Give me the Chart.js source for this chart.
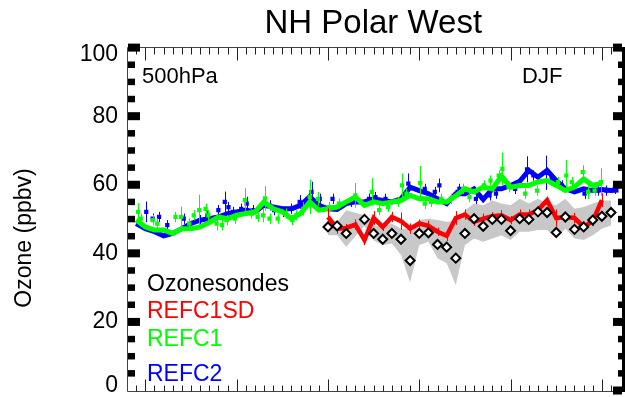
<!DOCTYPE html>
<html>
<head>
<meta charset="utf-8">
<script src="https://cdn.jsdelivr.net/npm/chart.js@4.4.0/dist/chart.umd.min.js"></script>
<style>
  html, body { margin: 0; padding: 0; background: #fff; overflow: hidden; }
  #wrap { width: 625px; height: 397px; position: relative; }
</style>
</head>
<body>
<div id="wrap"><canvas id="ozoneChart"></canvas></div>
<script>
// DJF ozone at 500 hPa, NH polar west: sondes vs. model runs
const FONT = "'Liberation Sans', Arial, Helvetica, sans-serif";

const yTickLabels = [0, 20, 40, 60, 80, 100];

// ozonesondes (no 1983 winter)
const sondeYears = [1980, 1981, 1982, 1984, 1985, 1986, 1987, 1988, 1989, 1990,
  1991, 1992, 1993, 1994, 1995, 1996, 1997, 1998, 1999, 2000,
  2001, 2002, 2003, 2004, 2005, 2006, 2007, 2008, 2009, 2010, 2011];
const sondeMean = [47.7, 48.0, 45.8, 49.9, 45.8, 44.1, 45.8, 44.1, 37.9, 45.8,
  46.0, 42.6, 41.8, 38.6, 45.8, 50.1, 47.9, 49.9, 49.9, 46.6,
  50.1, 49.9, 52.1, 51.9, 46.1, 50.6, 47.0, 47.7, 49.7, 50.8, 51.9];
const sondeHigh = [49.7, 49.2, 52.6, 51.1, 48.2, 47.7, 48.7, 47.2, 47.2, 49.7,
  50.1, 49.7, 49.2, 49.5, 52.6, 54.5, 54.0, 55.4, 54.5, 54.0,
  55.9, 54.5, 55.9, 54.5, 54.0, 55.9, 53.0, 53.5, 54.5, 55.4, 55.4];
const sondeLow = [45.3, 45.3, 41.9, 48.0, 43.8, 42.4, 42.9, 39.5, 31.5, 42.4,
  43.4, 38.6, 37.1, 30.8, 42.4, 44.3, 43.4, 44.3, 45.3, 43.9,
  46.3, 46.3, 46.8, 46.8, 44.3, 47.2, 44.3, 43.9, 45.3, 47.2, 48.2];

// REFC1SD
const sdYears = [1980, 1981, 1982, 1983, 1984, 1985, 1986, 1987, 1988, 1989,
  1990, 1991, 1992, 1993, 1994, 1995, 1996, 1997, 1998, 1999,
  2000, 2001, 2002, 2003, 2004, 2005, 2006, 2007, 2008, 2009, 2010];
const sdValues = [50.6, 47.2, 47.4, 48.4, 43.9, 50.3, 47.7, 50.6, 49.4, 47.2,
  48.7, 48.0, 46.3, 45.1, 50.3, 51.3, 49.2, 50.1, 50.8, 51.1,
  49.7, 51.3, 51.3, 52.6, 55.5, 50.3, 50.6, 50.3, 47.7, 49.4, 55.5];
const sdErrors = [2.5, 1.5, 1.2, 1.5, 1.5, 2.0, 1.2, 1.5, 2.5, 1.5,
  1.2, 1.5, 1.2, 1.5, 2.0, 1.5, 1.2, 1.5, 1.2, 1.5,
  1.2, 1.5, 1.5, 1.2, 1.0, 2.5, 1.5, 1.5, 1.5, 1.5, 2.0];

// REFC1 winter means
const c1Years = [1959, 1960, 1961, 1962, 1963, 1964, 1965, 1966, 1967, 1968,
  1969, 1970, 1971, 1972, 1973, 1974, 1975, 1976, 1977, 1978,
  1979, 1980, 1981, 1982, 1983, 1984, 1985, 1986, 1987, 1988,
  1989, 1990, 1991, 1992, 1993, 1994, 1995, 1996, 1997, 1998,
  1999, 2000, 2001, 2002, 2003, 2004, 2005, 2006, 2007, 2008, 2009, 2010];
const c1Values = [49.7, 47.7, 46.8, 46.8, 45.8, 47.2, 47.2, 47.7, 49.0, 50.6,
  50.1, 51.1, 51.6, 52.1, 55.0, 53.0, 52.1, 50.1, 51.6, 55.0,
  52.6, 53.0, 53.5, 55.0, 56.4, 54.0, 55.0, 54.5, 55.0, 55.4,
  56.9, 55.9, 55.9, 55.0, 55.0, 56.8, 58.8, 57.9, 59.3, 58.8,
  62.5, 59.3, 59.8, 59.8, 60.8, 61.2, 59.8, 58.3, 59.3, 61.7, 59.8, 60.5];

// REFC1 individual members
const c1DotYears = [1959.2, 1959.5, 1960.8, 1961.3, 1963.3, 1963.9, 1964.8, 1965.3, 1965.9, 1966.6,
  1966.9, 1967.8, 1968.4, 1968.9, 1969.8, 1970.9, 1971.6, 1972.3, 1972.9, 1973.1,
  1973.6, 1974.5, 1975.4, 1976.1, 1976.5, 1977.3, 1978.0, 1978.9, 1980.1, 1981.2,
  1983.0, 1984.8, 1985.6, 1986.6, 1987.7, 1988.1, 1988.6, 1990.1, 1990.6, 1991.3,
  1992.4, 1993.5, 1994.8, 1995.5, 1997.1, 1997.8, 1998.7, 1999.1, 1999.8, 2001.6,
  2002.9, 2005.2, 2006.1, 2006.7, 2007.9, 2008.5, 2009.2, 2009.9];
const c1DotValues = [52.1, 50.1, 49.7, 48.7, 50.6, 50.6, 48.7, 51.1, 52.6, 53.0,
  51.1, 48.7, 48.2, 49.7, 50.1, 55.5, 51.6, 50.6, 51.1, 56.0,
  50.1, 50.1, 51.6, 49.7, 51.1, 53.0, 56.5, 55.9, 53.5, 54.5,
  56.9, 57.9, 52.6, 53.5, 55.0, 59.8, 57.4, 60.5, 54.5, 55.0,
  55.9, 55.9, 58.8, 56.4, 59.8, 61.2, 62.7, 64.6, 59.3, 57.4,
  58.3, 60.8, 62.7, 60.8, 63.7, 57.9, 58.3, 60.8];
const c1DotErrors = [2.5, 1.5, 1.5, 1.5, 1.5, 3.0, 1.5, 1.5, 4.5, 1.5,
  1.5, 2.0, 1.5, 1.5, 1.5, 3.5, 1.5, 1.5, 2.0, 3.6,
  1.5, 1.5, 1.5, 1.5, 1.5, 2.0, 5.0, 2.0, 1.5, 1.5,
  3.6, 4.0, 1.5, 1.5, 1.5, 3.5, 1.5, 5.0, 1.5, 1.5,
  1.5, 1.5, 1.5, 1.5, 1.5, 1.5, 1.5, 4.8, 1.5, 1.5,
  1.5, 1.5, 4.5, 1.5, 2.0, 2.0, 1.5, 4.0];

// REFC2 winter means
const c2Years = [1959, 1960, 1961, 1962, 1963, 1964, 1965, 1966, 1967, 1968,
  1969, 1970, 1971, 1972, 1973, 1974, 1975, 1976, 1977, 1978,
  1979, 1980, 1981, 1982, 1983, 1984, 1985, 1986, 1987, 1988,
  1989, 1990, 1991, 1992, 1993, 1994, 1995, 1996, 1997, 1998,
  1999, 2000, 2001, 2002, 2003, 2004, 2005, 2006, 2007, 2008,
  2009, 2010, 2011, 2012];
const c2Values = [48.7, 47.2, 46.3, 45.1, 45.8, 47.2, 48.7, 49.7, 50.1, 50.6,
  51.6, 52.1, 52.6, 52.1, 54.0, 53.5, 53.0, 53.0, 54.0, 56.5,
  54.0, 53.0, 52.8, 54.5, 55.0, 55.0, 55.9, 55.4, 55.0, 55.9,
  59.3, 58.3, 57.4, 55.9, 54.5, 57.4, 57.4, 58.8, 55.7, 58.8,
  58.8, 59.8, 61.0, 64.2, 62.2, 64.2, 61.2, 58.8, 57.9, 58.8,
  58.3, 58.6, 58.3, 58.5];

// REFC2 individual members
const c2DotYears = [1960.1, 1960.8, 1961.5, 1962.4, 1964.2, 1966.0, 1966.8, 1968.0, 1968.7, 1969.1,
  1969.6, 1970.5, 1971.1, 1971.8, 1973.6, 1974.1, 1975.1, 1976.0, 1976.9, 1978.2,
  1979.1, 1980.5, 1982.5, 1984.5, 1985.2, 1986.3, 1988.8, 1990.6, 1991.7, 1992.2,
  1994.2, 1994.4, 1996.2, 1997.7, 1998.4, 2000.5, 2001.8, 2002.5, 2003.9, 2004.5,
  2005.6, 2008.1, 2009.6, 2010.5, 2011.4];
const c2DotValues = [52.1, 50.1, 50.6, 48.2, 50.1, 49.7, 51.1, 52.6, 55.0, 53.5,
  52.1, 53.0, 54.5, 52.6, 54.0, 52.6, 52.1, 53.0, 55.0, 57.9,
  55.9, 55.9, 55.0, 55.9, 56.4, 55.9, 60.3, 58.8, 57.9, 59.8,
  57.9, 58.8, 55.9, 56.9, 57.4, 58.8, 64.5, 62.7, 63.5, 61.7,
  59.8, 57.4, 58.3, 58.3, 58.8];
const c2DotErrors = [3.0, 1.5, 1.5, 1.5, 1.5, 1.5, 1.5, 1.5, 3.0, 1.5,
  1.5, 1.5, 2.0, 1.5, 1.5, 1.5, 1.5, 1.5, 2.0, 3.0,
  1.5, 1.5, 1.5, 1.5, 1.5, 1.5, 3.0, 1.5, 1.5, 2.0,
  1.5, 1.5, 1.5, 1.5, 1.5, 1.5, 3.8, 1.5, 5.0, 1.5,
  1.5, 1.5, 1.5, 1.5, 1.5];

const RED = '#ff0000';
const GREEN = '#00ff00';
const BLUE = '#0000ff';

function pts(xs, ys) {
  return xs.map((x, i) => ({ x: x, y: ys[i] }));
}

// thick IDL-style frame, inward ticks and the text inside the plot
const idlFrame = {
  id: 'idlFrame',
  beforeDatasetDraw(chart, args) {
    const ds = chart.data.datasets[args.index];
    if (!ds.errors) return;
    const { ctx, chartArea: a, scales: { x, y } } = chart;
    ctx.save();
    ctx.beginPath();
    ctx.rect(a.left, a.top, a.right - a.left, a.bottom - a.top);
    ctx.clip();
    ctx.strokeStyle = ds.errorColor;
    ctx.lineWidth = 1;
    ds.data.forEach((p, i) => {
      const e = ds.errors[i];
      if (!e) return;
      const px = Math.round(x.getPixelForValue(p.x)) + 0.5;
      ctx.beginPath();
      ctx.moveTo(px, y.getPixelForValue(p.y - e));
      ctx.lineTo(px, y.getPixelForValue(p.y + e));
      ctx.stroke();
    });
    ctx.restore();
  },
  afterDatasetsDraw(chart) {
    const { ctx, chartArea: a, scales: { x, y } } = chart;
    const top = Math.round(a.top) - 0.5;
    const bottom = Math.round(a.bottom) + 0.5;
    const rightEdge = 622;
    ctx.save();

    // axis lines
    ctx.strokeStyle = '#444';
    ctx.lineWidth = 1;
    ctx.beginPath();
    ctx.moveTo(a.left - 0.5, top);
    ctx.lineTo(a.left - 0.5, bottom);
    ctx.moveTo(a.left - 0.5, top);
    ctx.lineTo(rightEdge, top);
    ctx.moveTo(a.left - 0.5, bottom);
    ctx.lineTo(rightEdge, bottom);
    ctx.stroke();
    ctx.fillStyle = '#000';
    ctx.fillRect(rightEdge, top - 0.5, 3, bottom - top + 1);

    // year ticks, top and bottom
    ctx.strokeStyle = '#222';
    ctx.beginPath();
    for (let yr = 1959; yr <= 2011; yr++) {
      const px = Math.round(x.getPixelForValue(yr)) + 0.5;
      const major = yr % 10 === 0;
      ctx.moveTo(px, bottom);
      ctx.lineTo(px, bottom - (major ? 12 : 6));
      ctx.moveTo(px, top);
      ctx.lineTo(px, top + (major ? 13 : 7));
    }
    ctx.stroke();

    // ozone ticks, drawn as thick blocks
    for (let v = 0; v <= 100; v += 5) {
      const py = y.getPixelForValue(v);
      const major = v % 20 === 0;
      const h = major ? 8 : 6.5;
      if (v > 0) ctx.fillRect(a.left, py - h / 2, major ? 12 : 7, h);
      ctx.fillRect(rightEdge - (major ? 9 : 4), py - h / 2, major ? 9 : 4, h);
    }

    // y tick labels
    ctx.font = '23px ' + FONT;
    ctx.fillStyle = '#000';
    ctx.textAlign = 'right';
    ctx.textBaseline = 'middle';
    yTickLabels.forEach(v => {
      const py = Math.min(Math.max(y.getPixelForValue(v), 55), 386);
      ctx.fillText(String(v), 118, py);
    });

    // y axis title
    ctx.save();
    ctx.font = '23px ' + FONT;
    ctx.translate(31, 238);
    ctx.rotate(-Math.PI / 2);
    ctx.textAlign = 'center';
    ctx.textBaseline = 'alphabetic';
    ctx.fillText('Ozone (ppbv)', 0, 0);
    ctx.restore();

    // labels inside the plot
    ctx.textAlign = 'left';
    ctx.textBaseline = 'alphabetic';
    ctx.font = '22px ' + FONT;
    ctx.fillText('500hPa', 142, 83);
    ctx.fillText('DJF', 522, 83);
    ctx.font = '23px ' + FONT;
    ctx.fillText('Ozonesondes', 147, 290.5);
    ctx.fillStyle = RED;
    ctx.fillText('REFC1SD', 147, 318);
    ctx.fillStyle = GREEN;
    ctx.fillText('REFC1', 147, 346);
    ctx.fillStyle = BLUE;
    ctx.fillText('REFC2', 147, 380.5);
    ctx.restore();
  }
};

const ctx = document.getElementById('ozoneChart').getContext('2d');
new Chart(ctx, {
  type: 'line',
  data: {
    datasets: [
      {
        label: 'sonde +1sd',
        data: pts(sondeYears, sondeHigh),
        borderWidth: 0,
        pointRadius: 0,
        backgroundColor: '#c8c8c8',
        fill: '+1',
        order: 20
      },
      {
        label: 'sonde -1sd',
        data: pts(sondeYears, sondeLow),
        borderWidth: 0,
        pointRadius: 0,
        fill: false,
        order: 19
      },
      {
        label: 'REFC2 members',
        data: pts(c2DotYears, c2DotValues),
        errors: c2DotErrors,
        errorColor: BLUE,
        showLine: false,
        pointStyle: 'rect',
        pointRadius: 3,
        backgroundColor: BLUE,
        borderColor: BLUE,
        borderWidth: 0,
        order: 9
      },
      {
        label: 'REFC2',
        data: pts(c2Years, c2Values),
        borderColor: BLUE,
        borderWidth: 5,
        pointRadius: 0,
        fill: false,
        order: 8
      },
      {
        label: 'REFC1 members',
        data: pts(c1DotYears, c1DotValues),
        errors: c1DotErrors,
        errorColor: GREEN,
        showLine: false,
        pointStyle: 'rect',
        pointRadius: 3,
        backgroundColor: GREEN,
        borderColor: GREEN,
        borderWidth: 0,
        order: 7
      },
      {
        label: 'REFC1',
        data: pts(c1Years, c1Values),
        borderColor: GREEN,
        borderWidth: 5,
        pointRadius: 0,
        fill: false,
        order: 6
      },
      {
        label: 'REFC1SD',
        data: pts(sdYears, sdValues),
        errors: sdErrors,
        errorColor: RED,
        borderColor: RED,
        borderWidth: 4.5,
        pointRadius: 0,
        fill: false,
        order: 5
      },
      {
        label: 'Ozonesondes',
        data: pts(sondeYears, sondeMean),
        showLine: false,
        pointStyle: 'rectRot',
        pointRadius: 4.5,
        pointBorderWidth: 2,
        pointBorderColor: '#000',
        pointBackgroundColor: '#fff',
        order: 1
      }
    ]
  },
  options: {
    responsive: true,
    maintainAspectRatio: false,
    animation: false,
    layout: { padding: { left: 128, right: 1, bottom: 4, top: 0 } },
    scales: {
      x: { type: 'linear', min: 1958.1, max: 2011.82, display: false },
      y: { type: 'linear', min: 0, max: 100, display: false }
    },
    plugins: {
      legend: { display: false },
      tooltip: { enabled: false },
      title: {
        display: true,
        text: 'NH Polar West',
        color: '#000',
        fullSize: false,
        font: { family: FONT, size: 33, weight: 'normal' },
        padding: { top: 4, bottom: 4 }
      }
    }
  },
  plugins: [idlFrame]
});
</script>
</body>
</html>
